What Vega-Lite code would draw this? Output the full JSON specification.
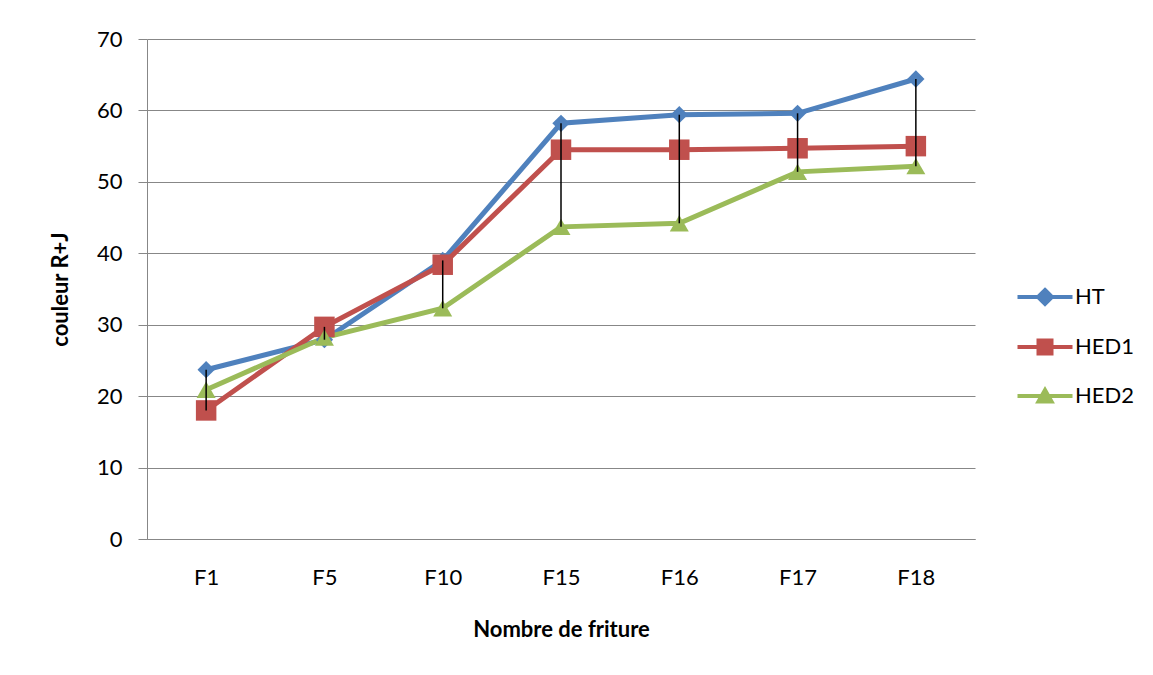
{
  "$schema": "https://vega.github.io/schema/vega-lite/v6.json",
  "width": 828,
  "height": 500,
  "autosize": {"type": "none"},
  "padding": {"left": 147, "top": 39, "right": 178, "bottom": 136},
  "background": "white",
  "config": {
    "font": "Lato",
    "view": {"stroke": null},
    "axis": {"labelFont": "Lato", "titleFont": "Lato", "labelColor": "#000000", "titleColor": "#000000"}
  },
  "data": {
    "values": [
      {"cat": "F1", "serie": "HT", "value": 23.7},
      {"cat": "F1", "serie": "HED1", "value": 18.0},
      {"cat": "F1", "serie": "HED2", "value": 20.9},
      {"cat": "F5", "serie": "HT", "value": 27.9},
      {"cat": "F5", "serie": "HED1", "value": 29.7},
      {"cat": "F5", "serie": "HED2", "value": 28.2},
      {"cat": "F10", "serie": "HT", "value": 39.0},
      {"cat": "F10", "serie": "HED1", "value": 38.4},
      {"cat": "F10", "serie": "HED2", "value": 32.3},
      {"cat": "F15", "serie": "HT", "value": 58.2},
      {"cat": "F15", "serie": "HED1", "value": 54.5},
      {"cat": "F15", "serie": "HED2", "value": 43.7},
      {"cat": "F16", "serie": "HT", "value": 59.4},
      {"cat": "F16", "serie": "HED1", "value": 54.5},
      {"cat": "F16", "serie": "HED2", "value": 44.2},
      {"cat": "F17", "serie": "HT", "value": 59.6},
      {"cat": "F17", "serie": "HED1", "value": 54.7},
      {"cat": "F17", "serie": "HED2", "value": 51.4},
      {"cat": "F18", "serie": "HT", "value": 64.4},
      {"cat": "F18", "serie": "HED1", "value": 55.0},
      {"cat": "F18", "serie": "HED2", "value": 52.2}
    ]
  },
  "encoding": {
    "x": {
      "field": "cat",
      "type": "nominal",
      "sort": ["F1", "F5", "F10", "F15", "F16", "F17", "F18"],
      "scale": {"type": "point", "padding": 0.5},
      "axis": {
        "title": "Nombre de friture",
        "labelAngle": 0,
        "labelFontSize": 22,
        "labelPadding": 28,
        "ticks": false,
        "tickSize": 0,
        "domainColor": "#878787",
        "domainWidth": 1,
        "grid": false,
        "titleFontSize": 22,
        "titleFontWeight": "bold",
        "titlePadding": 31
      }
    },
    "y": {
      "field": "value",
      "type": "quantitative",
      "scale": {"domain": [0, 70], "nice": false, "zero": true},
      "axis": {
        "title": "couleur R+J",
        "values": [0, 10, 20, 30, 40, 50, 60, 70],
        "labelFontSize": 22,
        "labelPadding": 16,
        "tickSize": 9,
        "tickColor": "#878787",
        "domainColor": "#878787",
        "grid": true,
        "gridColor": "#878787",
        "gridWidth": 1,
        "titleFontSize": 22,
        "titleFontWeight": "bold",
        "titlePadding": 24
      }
    },
    "color": {
      "field": "serie",
      "type": "nominal",
      "scale": {"domain": ["HT", "HED1", "HED2"], "range": ["#4F81BD", "#C0504D", "#9BBB59"]},
      "legend": {
        "orient": "none",
        "legendX": 887,
        "legendY": 247,
        "title": null,
        "labelFont": "Lato",
        "labelFontSize": 22,
        "labelColor": "#000000",
        "symbolSize": 100,
        "labelOffset": 19,
        "rowPadding": 20,
        "encode": {
          "symbols": {
            "update": {
              "shape": {"signal": "datum.value === 'HT' ? 'M-5.5,0H5.5M0,-1.4L1.4,0L0,1.4L-1.4,0Z' : datum.value === 'HED1' ? 'M-5.5,0H5.5M-1.3,-1.3H1.3V1.3H-1.3Z' : 'M-5.5,0H5.5M0,-1.2L1.3,1.1H-1.3Z'"},
              "fill": {"signal": "scale('color', datum.value)"},
              "stroke": {"signal": "scale('color', datum.value)"},
              "strokeWidth": {"value": 4},
              "opacity": {"value": 1}
            }
          }
        }
      }
    }
  },
  "layer": [
    {
      "mark": {"type": "line", "strokeWidth": 5}
    },
    {
      "transform": [{"filter": "datum.serie === 'HT'"}],
      "mark": {"type": "point", "filled": true, "opacity": 1, "shape": "diamond", "size": 300}
    },
    {
      "transform": [{"filter": "datum.serie === 'HED1'"}],
      "mark": {"type": "point", "filled": true, "opacity": 1, "shape": "square", "size": 420}
    },
    {
      "transform": [{"filter": "datum.serie === 'HED2'"}],
      "mark": {"type": "point", "filled": true, "opacity": 1, "shape": "triangle-up", "size": 360}
    },
    {
      "transform": [
        {"aggregate": [{"op": "min", "field": "value", "as": "lo"}, {"op": "max", "field": "value", "as": "hi"}], "groupby": ["cat"]}
      ],
      "mark": {"type": "rule", "color": "#000000", "strokeWidth": 1.5},
      "encoding": {
        "color": {"value": "#000000"},
        "y": {"field": "lo", "type": "quantitative"},
        "y2": {"field": "hi"}
      }
    }
  ]
}
